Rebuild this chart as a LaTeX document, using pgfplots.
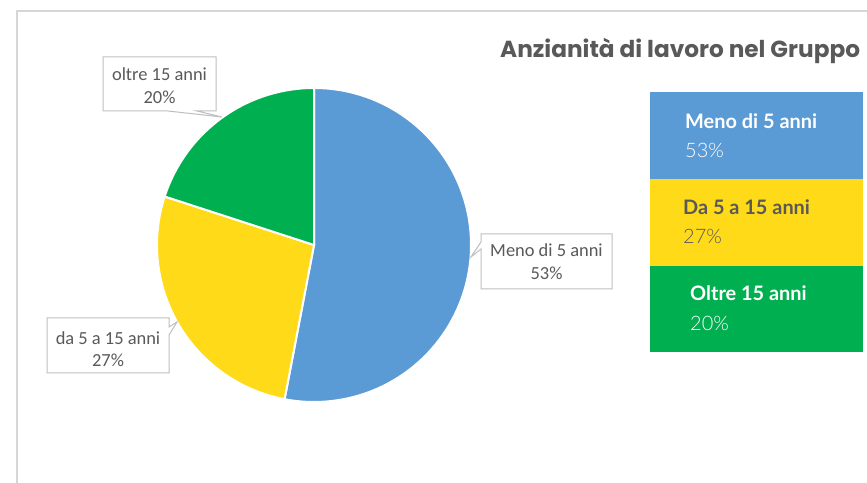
\documentclass[border=0pt]{standalone}
\usepackage{fontspec}
\setmainfont{Carlito}
\newfontfamily\titlefont{Poppins}
\newfontfamily\legfont{Lato}
\newfontfamily\leglight{Lato Light}
\usepackage{pgfplots}
\usepackage{pgfplotstable}
\pgfplotsset{compat=1.18}

\definecolor{cblue}{HTML}{5B9BD5}
\definecolor{cyellow}{HTML}{FFDA18}
\definecolor{cgreen}{HTML}{00B050}
\definecolor{txtgray}{HTML}{595959}
\definecolor{boxgray}{HTML}{BFBFBF}
\definecolor{framegray}{HTML}{D6D6D6}

% share of employees by seniority (%)
\pgfplotstableread{
share
53
27
20
}\piedata

\begin{document}
\begin{tikzpicture}
\pgfplotstablegetelem{0}{share}\of\piedata \let\va\pgfplotsretval
\pgfplotstablegetelem{1}{share}\of\piedata \let\vb\pgfplotsretval
\pgfplotstablegetelem{2}{share}\of\piedata \let\vc\pgfplotsretval
\pgfmathsetmacro{\aA}{90}
\pgfmathsetmacro{\aB}{\aA-3.6*\va}
\pgfmathsetmacro{\aC}{\aB-3.6*\vb}
\pgfmathsetmacro{\aD}{\aC-3.6*\vc}
\begin{axis}[
    x=1bp, y=1bp,
    xmin=0, xmax=867, ymin=0, ymax=483,
    hide axis, scale only axis, clip=false,
]
% frame
\draw[framegray, line width=2.5bp] (axis cs:17,0) -- (axis cs:17,472) -- (axis cs:867,472);

% pie slices
\filldraw[fill=cblue, draw=white, line width=2bp] (axis cs:314,238) -- ++(\aA:157bp) arc[start angle=\aA, end angle=\aB, radius=157bp] -- cycle;
\filldraw[fill=cyellow, draw=white, line width=2bp] (axis cs:314,238) -- ++(\aB:157bp) arc[start angle=\aB, end angle=\aC, radius=157bp] -- cycle;
\filldraw[fill=cgreen, draw=white, line width=2bp] (axis cs:314,238) -- ++(\aC:157bp) arc[start angle=\aC, end angle=\aD, radius=157bp] -- cycle;

% callouts
\filldraw[fill=white, draw=boxgray, line width=1bp] (axis cs:103,426) -- (axis cs:216,426) -- (axis cs:216,372) -- (axis cs:197,372) -- (axis cs:222,366) -- (axis cs:168,372) -- (axis cs:103,372) -- cycle;
\node[anchor=base, txtgray, font=\fontsize{18.5}{20}\selectfont] at (axis cs:159.5,402) {oltre 15 anni};
\node[anchor=base, txtgray, font=\fontsize{18.5}{20}\selectfont] at (axis cs:159.5,380) {20\%};

\filldraw[fill=white, draw=boxgray, line width=1bp] (axis cs:481,249) -- (axis cs:612,249) -- (axis cs:612,194) -- (axis cs:481,194) -- (axis cs:481,234) -- (axis cs:471,226) -- (axis cs:481,241) -- cycle;
\node[anchor=base, txtgray, font=\fontsize{18.5}{20}\selectfont] at (axis cs:546.5,227) {Meno di 5 anni};
\node[anchor=base, txtgray, font=\fontsize{18.5}{20}\selectfont] at (axis cs:546.5,204) {53\%};

\filldraw[fill=white, draw=boxgray, line width=1bp] (axis cs:47,165) -- (axis cs:169,165) -- (axis cs:169,156) -- (axis cs:177,161) -- (axis cs:169,148) -- (axis cs:169,110) -- (axis cs:47,110) -- cycle;
\node[anchor=base, txtgray, font=\fontsize{18.5}{20}\selectfont] at (axis cs:108,139) {da 5 a 15 anni};
\node[anchor=base, txtgray, font=\fontsize{18.5}{20}\selectfont] at (axis cs:108,117) {27\%};

% title
\node[anchor=base west, txtgray, font=\titlefont\bfseries\fontsize{23.3}{26}\selectfont, inner sep=0pt] at (axis cs:500,425) {Anzianità di lavoro nel Gruppo};

% legend boxes
\fill[cblue] (axis cs:650,391) rectangle (axis cs:863,304);
\fill[cyellow] (axis cs:650,304) rectangle (axis cs:863,217);
\fill[cgreen] (axis cs:650,217) rectangle (axis cs:863,131);
\node[anchor=base west, white, inner sep=0pt, font=\legfont\bfseries\fontsize{20}{22}\selectfont] at (axis cs:685,355) {Meno di 5 anni};
\node[anchor=base west, white, inner sep=0pt, font=\leglight\fontsize{20}{22}\selectfont] at (axis cs:685,326) {53\%};
\node[anchor=base west, txtgray, inner sep=0pt, font=\legfont\bfseries\fontsize{20}{22}\selectfont] at (axis cs:683,269) {Da 5 a 15 anni};
\node[anchor=base west, txtgray, inner sep=0pt, font=\leglight\fontsize{20}{22}\selectfont] at (axis cs:683,240) {27\%};
\node[anchor=base west, white, inner sep=0pt, font=\legfont\bfseries\fontsize{20}{22}\selectfont] at (axis cs:690,183) {Oltre 15 anni};
\node[anchor=base west, white, inner sep=0pt, font=\leglight\fontsize{20}{22}\selectfont] at (axis cs:690,153) {20\%};
\end{axis}
\pgfresetboundingbox
\path (0,0) rectangle (867bp,483bp);
\end{tikzpicture}
\end{document}
